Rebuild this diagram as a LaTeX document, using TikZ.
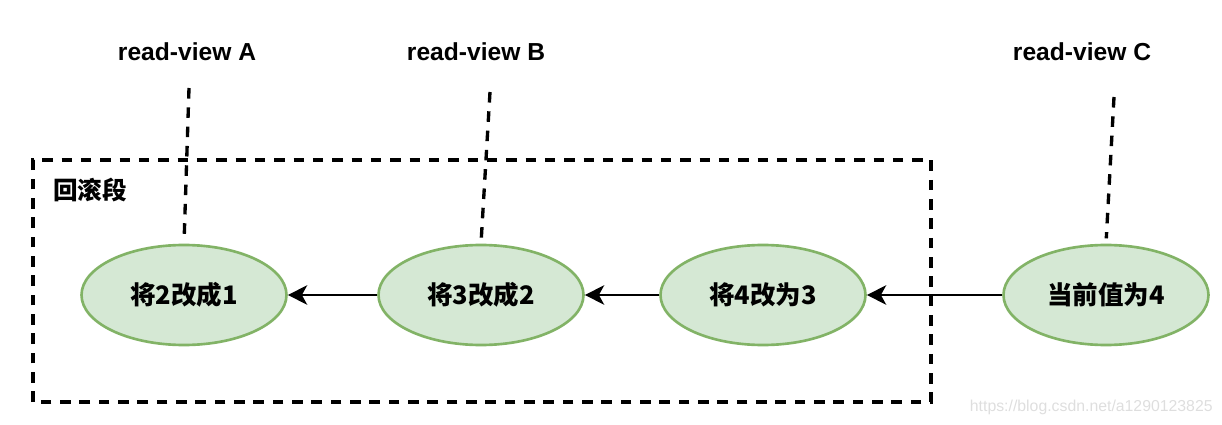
\documentclass[tikz,border=0pt]{standalone}
\usepackage{fontspec}
\setmainfont{Liberation Sans}
\newfontfamily\cjk{Noto Sans CJK SC}
\usetikzlibrary{arrows.meta,shapes.geometric}
\definecolor{undofill}{HTML}{D5E8D4}
\definecolor{undoline}{HTML}{82B366}
\begin{document}
\begin{tikzpicture}[
    version/.style={ellipse, draw=undoline, fill=undofill, line width=1.5pt,
        minimum width=4.1cm, minimum height=2cm, inner sep=0pt,
        font=\cjk\bfseries\fontsize{14.5}{17}\selectfont},
    viewlabel/.style={font=\bfseries\fontsize{14}{17}\selectfont},
    dashline/.style={line width=1.9pt, dash pattern=on 6pt off 5pt},
    viewline/.style={dashline, shorten >=3pt},
    undolink/.style={-{Stealth[length=11pt,width=11pt,inset=3pt]}, line width=1.4pt}
]
            \useasboundingbox (0, 0) rectangle (24.44, 8.48);

            % undo segment
            \draw[dashline] (0.66, 0.44) rectangle (18.62, 5.28);
            \node[font=\cjk\bfseries\fontsize{14}{17}\selectfont] (seg) at (1.8, 4.68) {回滚段};

            % versions
            \node[version] (v1) at (3.68, 2.58) {将2改成1};
            \node[version] (v2) at (9.62, 2.58) {将3改成2};
            \node[version] (v3) at (15.26, 2.58) {将4改为3};
            \node[version] (v4) at (22.12, 2.58) {当前值为4};

            \draw[undolink] (v2) -- (v1);
            \draw[undolink] (v3) -- (v2);
            \draw[undolink] (v4) -- (v3);

            % read views
            \node[viewlabel] (rvA) at (3.74, 7.44) {read-view A};
            \node[viewlabel] (rvB) at (9.52, 7.44) {read-view B};
            \node[viewlabel] (rvC) at (21.64, 7.44) {read-view C};

            \coordinate (tA) at (3.78, 6.72);
            \coordinate (tB) at (9.80, 6.64);
            \coordinate (tC) at (22.28, 6.54);

            \draw[viewline] (tA) -- (v1.north);
            \draw[viewline] (tB) -- (v2.north);
            \draw[viewline] (tC) -- (v4.north);

            \node[anchor=east, inner sep=0pt, text=black!13, font=\fontsize{9}{11}\selectfont] (mark) at (24.26, 0.34) {https://blog.csdn.net/a1290123825};
        \end{tikzpicture}
\end{document}
